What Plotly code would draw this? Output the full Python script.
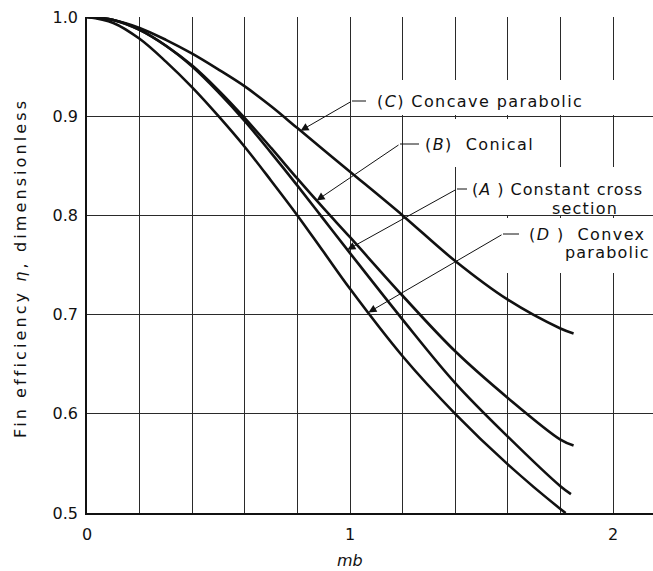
import numpy as np
import plotly.graph_objects as go

# ---- data ----
mb_C = [0, 0.1, 0.2, 0.3, 0.4, 0.5, 0.6, 0.7, 0.8, 0.9, 1.0, 1.2, 1.4, 1.6, 1.8, 1.85]
eta_C = [1.0, 0.997, 0.989, 0.977, 0.963, 0.947, 0.930, 0.910, 0.888, 0.866, 0.844,
         0.800, 0.754, 0.715, 0.686, 0.681]

mb_B = [0, 0.1, 0.2, 0.3, 0.4, 0.5, 0.6, 0.7, 0.8, 0.9, 1.0, 1.2, 1.4, 1.6, 1.8, 1.85]
eta_B = [1.0, 0.997, 0.987, 0.971, 0.951, 0.926, 0.898, 0.868, 0.837, 0.807, 0.778,
         0.719, 0.663, 0.616, 0.574, 0.568]

mb_A = [0, 0.1, 0.2, 0.3, 0.4, 0.5, 0.6, 0.7, 0.8, 0.9, 1.0, 1.2, 1.4, 1.6, 1.8, 1.84]
eta_A = [1.0, 0.997, 0.987, 0.971, 0.950, 0.924, 0.895, 0.863, 0.830, 0.796, 0.762,
         0.695, 0.631, 0.577, 0.527, 0.519]

mb_D = [0, 0.1, 0.2, 0.3, 0.4, 0.5, 0.6, 0.7, 0.8, 0.9, 1.0, 1.2, 1.4, 1.6, 1.8, 1.82]
eta_D = [1.0, 0.994, 0.978, 0.955, 0.929, 0.900, 0.869, 0.835, 0.800, 0.763, 0.726,
         0.658, 0.600, 0.549, 0.504, 0.500]

x_ticks = [0, 1, 2]
x_ticktext = ["0", "1", "2"]
y_ticks = [0.5, 0.6, 0.7, 0.8, 0.9, 1.0]
y_ticktext = ["0.5", "0.6", "0.7", "0.8", "0.9", "1.0"]

# ---- layout constants ----
W, H = 653, 571
ML, MR, MT, MB = 87, 0, 17, 58
PW = W - ML - MR
PH = H - MT - MB
XMAX = 2.152
YMIN, YMAX = 0.5, 1.0

FONT = "DejaVu Sans"
FS = 16
INK = "#111111"
GRID = "#2a2a2a"


def px2x(px):
    return (px - ML) / PW * XMAX


def py2y(py):
    return YMAX - (py - MT) / PH * (YMAX - YMIN)


def spaced(t, ls):
    return '<span style="letter-spacing:%spx">%s</span>' % (ls, t)


fig = go.Figure()
for xs, ys in [(mb_C, eta_C), (mb_B, eta_B), (mb_A, eta_A), (mb_D, eta_D)]:
    fig.add_trace(go.Scatter(x=xs, y=ys, mode="lines",
                             line=dict(color=INK, width=2.6, shape="spline", smoothing=1.0),
                             showlegend=False, hoverinfo="skip"))

shapes = []
annotations = []

# white patches that interrupt the grid behind the labels
for x0, x1, y0, y1 in [(362, 660, 80, 115), (410, 545, 119, 167),
                       (465, 660, 167, 215), (500, 660, 218, 273)]:
    shapes.append(dict(type="rect", xref="x", yref="y", layer="between",
                       x0=px2x(x0), x1=px2x(x1), y0=py2y(y1), y1=py2y(y0),
                       fillcolor="white", line=dict(width=0)))

labels = [
    ("(<i>C</i>) Concave parabolic", 1.4, 375, 101, 366, 352, (mb_C, eta_C), 0.812, []),
    ("(<i>B</i>)  Conical", 1.4, 423, 144, 419, 400, (mb_B, eta_B), 0.873, []),
    ("(<i>A</i> ) Constant cross", 1.0, 470, 189, 467, 457, (mb_A, eta_A), 0.99,
     [("section", 585, 208)]),
    ("(<i>D</i> )  Convex", 1.4, 527, 234, 519, 503, (mb_D, eta_D), 1.07,
     [("parabolic", 607, 252)]),
]

for text, ls, tx, ty, e0, e1, (cx, cy), tipx, extra in labels:
    annotations.append(dict(x=px2x(tx), y=py2y(ty), xref="x", yref="y",
                            text=spaced(text, ls), showarrow=False, xanchor="left",
                            yanchor="middle", font=dict(family=FONT, size=FS, color=INK)))
    for t, x_c, y_c in extra:
        annotations.append(dict(x=px2x(x_c), y=py2y(y_c), xref="x", yref="y",
                                text=spaced(t, 1.2), showarrow=False, xanchor="center",
                                yanchor="middle", font=dict(family=FONT, size=FS, color=INK)))
    ey = py2y(ty)
    shapes.append(dict(type="line", xref="x", yref="y", layer="above",
                       x0=px2x(e0), x1=px2x(e1), y0=ey, y1=ey,
                       line=dict(color=INK, width=1)))
    tipy = float(np.interp(tipx, cx, cy))
    annotations.append(dict(x=tipx, y=tipy, xref="x", yref="y",
                            ax=px2x(e1), ay=ey, axref="x", ayref="y",
                            text="", showarrow=True, arrowhead=2, arrowsize=1.6,
                            arrowwidth=1, arrowcolor=INK, standoff=0))

# axis titles
annotations.append(dict(x=px2x(350), y=0, xref="x", yref="paper", yshift=-(560 - (H - MB)),
                        text="<i>mb</i>", showarrow=False, xanchor="center", yanchor="middle",
                        font=dict(family=FONT, size=FS, color=INK)))
annotations.append(dict(x=0, y=py2y(268), xref="paper", yref="y", xshift=-(ML - 20),
                        text=spaced("Fin efficiency <i>η</i>, dimensionless", 3.1),
                        textangle=-90,
                        showarrow=False, xanchor="center", yanchor="middle",
                        font=dict(family=FONT, size=FS, color=INK)))

fig.update_layout(
    width=W, height=H, autosize=False,
    margin=dict(l=ML, r=MR, t=MT, b=MB, pad=0),
    paper_bgcolor="white", plot_bgcolor="white",
    font=dict(family=FONT, size=FS, color=INK),
    shapes=shapes, annotations=annotations,
    xaxis=dict(range=[0, XMAX], tickmode="array", tickvals=x_ticks, ticktext=x_ticktext,
               showgrid=True, gridcolor=GRID, gridwidth=1,
               minor=dict(tickmode="linear", tick0=0, dtick=0.2, showgrid=True,
                          gridcolor=GRID, gridwidth=1),
               showline=True, linecolor=INK, linewidth=1.5, zeroline=False,
               ticks="", ticklabelstandoff=6, fixedrange=True),
    yaxis=dict(range=[YMIN, YMAX], tickmode="array", tickvals=y_ticks, ticktext=y_ticktext,
               showgrid=True, gridcolor=GRID, gridwidth=1,
               showline=True, linecolor=INK, linewidth=1.5, zeroline=False,
               ticks="", ticklabelstandoff=4, fixedrange=True),
)

fig.write_html("out.html")
